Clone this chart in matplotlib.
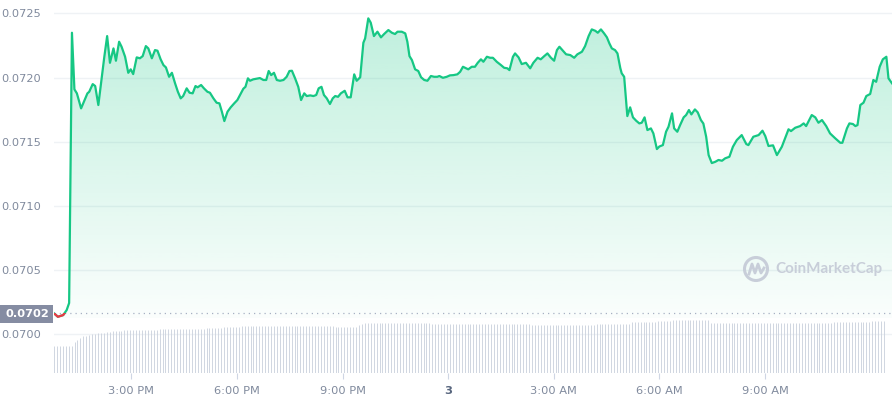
import matplotlib
matplotlib.use("Agg")
import matplotlib.pyplot as plt
import numpy as np
from matplotlib.patches import Circle, Rectangle
from matplotlib.lines import Line2D
from matplotlib.transforms import IdentityTransform

# price: hours since 00:00 of day 2 (24 = midnight of the 3rd), price in USD
hours = [12.80, 12.91, 13.06, 13.16, 13.23, 13.31, 13.38, 13.45, 13.57, 13.66, 13.75, 13.80,
         13.90, 13.97, 14.06, 14.16, 14.23, 14.31, 14.39, 14.49, 14.56, 14.65, 14.72, 14.82,
         14.91, 14.98, 15.05, 15.15, 15.24, 15.32, 15.41, 15.48, 15.58, 15.67, 15.74, 15.83,
         15.91, 15.98, 16.07, 16.15, 16.24, 16.32, 16.40, 16.47, 16.57, 16.65, 16.74, 16.82,
         16.88, 16.98, 17.06, 17.16, 17.23, 17.33, 17.42, 17.50, 17.57, 17.64, 17.73, 17.82,
         17.92, 18.01, 18.11, 18.18, 18.24, 18.31, 18.37, 18.46, 18.56, 18.65, 18.75, 18.83,
         18.90, 18.97, 19.05, 19.13, 19.22, 19.32, 19.41, 19.49, 19.56, 19.65, 19.74, 19.82,
         19.91, 19.98, 20.08, 20.17, 20.25, 20.32, 20.40, 20.47, 20.55, 20.64, 20.72, 20.79,
         20.87, 20.95, 21.06, 21.14, 21.23, 21.33, 21.40, 21.50, 21.59, 21.64, 21.73, 21.80,
         21.89, 21.99, 22.09, 22.18, 22.30, 22.40, 22.49, 22.56, 22.68, 22.78, 22.84, 22.90,
         22.97, 23.06, 23.15, 23.23, 23.32, 23.41, 23.51, 23.60, 23.69, 23.75, 23.85, 23.96,
         24.05, 24.15, 24.26, 24.34, 24.42, 24.51, 24.57, 24.67, 24.76, 24.84, 24.93, 25.00,
         25.10, 25.19, 25.27, 25.38, 25.50, 25.59, 25.68, 25.74, 25.84, 25.90, 26.00, 26.09,
         26.21, 26.33, 26.42, 26.54, 26.63, 26.73, 26.82, 26.92, 27.01, 27.09, 27.16, 27.26,
         27.35, 27.47, 27.58, 27.67, 27.80, 27.89, 27.99, 28.08, 28.18, 28.25, 28.34, 28.43,
         28.51, 28.58, 28.65, 28.74, 28.81, 28.89, 28.93, 29.00, 29.09, 29.17, 29.25, 29.34,
         29.43, 29.50, 29.58, 29.66, 29.76, 29.83, 29.93, 30.00, 30.10, 30.19, 30.26, 30.36,
         30.42, 30.51, 30.59, 30.69, 30.76, 30.84, 30.91, 31.01, 31.09, 31.18, 31.25, 31.33,
         31.40, 31.49, 31.59, 31.68, 31.78, 31.87, 31.99, 32.09, 32.20, 32.34, 32.47, 32.53,
         32.67, 32.82, 32.93, 33.01, 33.10, 33.23, 33.34, 33.48, 33.67, 33.74, 33.86, 34.00,
         34.10, 34.17, 34.33, 34.43, 34.52, 34.62, 34.74, 34.85, 35.00, 35.14, 35.20, 35.33,
         35.40, 35.50, 35.57, 35.63, 35.71, 35.80, 35.88, 35.99, 36.08, 36.16, 36.26, 36.35,
         36.45, 36.51, 36.61]

price = [0.070164, 0.070137, 0.070150, 0.070189, 0.070244, 0.072349, 0.071908, 0.071877,
         0.071760, 0.071819, 0.071877, 0.071889, 0.071949, 0.071934, 0.071786, 0.072006,
         0.072162, 0.072323, 0.072115, 0.072227, 0.072131, 0.072279, 0.072240, 0.072162,
         0.072037, 0.072064, 0.072027, 0.072157, 0.072150, 0.072167, 0.072245, 0.072227,
         0.072150, 0.072214, 0.072209, 0.072142, 0.072097, 0.072079, 0.072006, 0.072037,
         0.071955, 0.071889, 0.071838, 0.071856, 0.071916, 0.071882, 0.071877, 0.071934,
         0.071924, 0.071942, 0.071916, 0.071889, 0.071882, 0.071838, 0.071804, 0.071799,
         0.071734, 0.071661, 0.071734, 0.071768, 0.071799, 0.071825, 0.071877, 0.071913,
         0.071928, 0.071994, 0.071975, 0.071986, 0.071991, 0.071996, 0.071981, 0.071981,
         0.072051, 0.072019, 0.072037, 0.071981, 0.071975, 0.071981, 0.072006, 0.072051,
         0.072053, 0.071994, 0.071928, 0.071825, 0.071877, 0.071856, 0.071861, 0.071856,
         0.071864, 0.071916, 0.071928, 0.071864, 0.071838, 0.071794, 0.071838, 0.071856,
         0.071850, 0.071877, 0.071897, 0.071846, 0.071846, 0.072025, 0.071975, 0.072002,
         0.072271, 0.072305, 0.072461, 0.072427, 0.072323, 0.072357, 0.072313, 0.072339,
         0.072370, 0.072349, 0.072339, 0.072357, 0.072357, 0.072344, 0.072279, 0.072167,
         0.072136, 0.072064, 0.072051, 0.072002, 0.071981, 0.071975, 0.072012, 0.072006,
         0.072006, 0.072012, 0.071998, 0.072006, 0.072017, 0.072019, 0.072025, 0.072045,
         0.072084, 0.072072, 0.072064, 0.072084, 0.072084, 0.072115, 0.072142, 0.072123,
         0.072162, 0.072154, 0.072154, 0.072123, 0.072097, 0.072076, 0.072072, 0.072058,
         0.072162, 0.072188, 0.072157, 0.072105, 0.072115, 0.072072, 0.072115, 0.072154,
         0.072142, 0.072167, 0.072188, 0.072154, 0.072131, 0.072214, 0.072240, 0.072209,
         0.072181, 0.072175, 0.072154, 0.072181, 0.072201, 0.072245, 0.072323, 0.072375,
         0.072364, 0.072349, 0.072375, 0.072344, 0.072313, 0.072266, 0.072227, 0.072214,
         0.072188, 0.072074, 0.072033, 0.072006, 0.071700, 0.071768, 0.071690, 0.071664,
         0.071643, 0.071648, 0.071690, 0.071591, 0.071604, 0.071565, 0.071443, 0.071463,
         0.071474, 0.071578, 0.071617, 0.071721, 0.071604, 0.071578, 0.071630, 0.071690,
         0.071708, 0.071747, 0.071713, 0.071752, 0.071729, 0.071669, 0.071642, 0.071539,
         0.071396, 0.071334, 0.071344, 0.071358, 0.071352, 0.071371, 0.071383, 0.071461,
         0.071513, 0.071552, 0.071482, 0.071474, 0.071539, 0.071552, 0.071586, 0.071544,
         0.071467, 0.071472, 0.071396, 0.071461, 0.071597, 0.071583, 0.071609, 0.071622,
         0.071643, 0.071622, 0.071708, 0.071690, 0.071648, 0.071669, 0.071622, 0.071565,
         0.071526, 0.071492, 0.071492, 0.071604, 0.071643, 0.071638, 0.071622, 0.071630,
         0.071786, 0.071804, 0.071856, 0.071872, 0.071981, 0.071967, 0.072084, 0.072142,
         0.072162, 0.071994, 0.071955]

open_price = 0.070164

# 24h volume (millions), one bar every 5 minutes from 12:48
volume = [27, 27, 27, 27, 27, 27, 27, 31, 33, 35, 37, 37, 38, 39, 39, 40, 40, 40, 41, 41, 42, 42, 42, 42,
          43, 43, 43, 43, 43, 43, 43, 43, 43, 43, 43, 43, 44, 44, 44, 44, 44, 44, 44, 44, 44, 44, 44, 44,
          44, 44, 44, 44, 45, 45, 45, 45, 45, 45, 46, 46, 46, 46, 46, 46, 47, 47, 47, 47, 47, 47, 47, 47,
          47, 47, 47, 47, 47, 47, 47, 47, 47, 47, 47, 47, 47, 47, 47, 47, 47, 47, 47, 47, 47, 47, 47, 47,
          46, 46, 46, 46, 46, 46, 46, 46, 48, 49, 50, 50, 50, 50, 50, 50, 50, 50, 50, 50, 50, 50, 50, 50,
          50, 50, 50, 50, 50, 50, 50, 50, 50, 49, 49, 49, 49, 49, 49, 49, 49, 49, 49, 49, 49, 49, 49, 49,
          49, 49, 49, 49, 49, 49, 49, 49, 49, 49, 49, 49, 49, 49, 49, 49, 49, 49, 49, 48, 48, 48, 48, 48,
          48, 48, 48, 48, 48, 48, 48, 48, 48, 48, 48, 48, 48, 48, 48, 48, 48, 49, 49, 49, 49, 49, 49, 49,
          49, 49, 49, 49, 49, 51, 51, 51, 51, 51, 51, 51, 51, 51, 52, 52, 52, 52, 52, 53, 53, 53, 53, 53,
          53, 53, 53, 53, 53, 53, 53, 53, 50, 50, 50, 50, 50, 50, 50, 50, 50, 50, 50, 50, 50, 50, 50, 50,
          50, 50, 50, 50, 50, 50, 50, 50, 50, 50, 50, 50, 50, 50, 50, 50, 50, 50, 50, 50, 50, 50, 50, 50,
          50, 50, 51, 51, 51, 51, 51, 51, 51, 51, 51, 51, 51, 51, 51, 52, 52, 52, 52, 52]
vol_start = 12.80
vol_step = 5 / 60

x_ticks = [15, 18, 21, 24, 27, 30, 33]
x_labels = ["3:00 PM", "6:00 PM", "9:00 PM", "3", "3:00 AM", "6:00 AM", "9:00 AM"]
y_ticks = [0.0700, 0.0705, 0.0710, 0.0715, 0.0720, 0.0725]

GREEN = "#16c784"
RED = "#ea3943"
GRID = "#eff2f5"
TEXT = "#808a9d"

fig = plt.figure(figsize=(8.94, 4.0), dpi=100)
ax = fig.add_axes([54 / 894, 27 / 400, 838 / 894, 373 / 400])
x0, x1 = 12.80, 36.61
y0, y1 = 0.069699, 0.072604
ax.set_xlim(x0, x1)
ax.set_ylim(y0, y1)
for s in ax.spines.values():
    s.set_visible(False)

# grid
ax.set_yticks(y_ticks)
ax.set_yticklabels([f"{v:.4f}" for v in y_ticks])
ax.yaxis.grid(True, color=GRID, lw=1)
ax.set_axisbelow(True)
ax.tick_params(axis="y", length=0, pad=9, labelsize=8.2, labelcolor=TEXT)
ax.set_xticks(x_ticks)
ax.set_xticklabels(x_labels)
ax.tick_params(axis="x", length=4, width=0.8, color="#cfd6e4", pad=5, labelsize=8.2, labelcolor=TEXT)
for lab in ax.get_xticklabels():
    if lab.get_text() == "3":
        lab.set_fontweight("bold")
        lab.set_color("#58667e")

# volume bars
vol = fig.add_axes(ax.get_position(), sharex=ax)
vol.patch.set_visible(False)
vol.set_ylim(0, 373)
vol.axis("off")
vol_x = vol_start + vol_step * np.arange(len(volume))
vol.vlines(vol_x, 0, volume, color="#c9d0dc", lw=0.6)
vol.set_xlim(x0, x1)

# gradient fill under the price
poly = ax.fill_between(hours, price, y0, facecolor="none", edgecolor="none")
grad = np.zeros((256, 1, 4))
rgb = matplotlib.colors.to_rgb(GREEN)
grad[:, 0, 0:3] = rgb
grad[:, 0, 3] = np.linspace(0.02, 0.29, 256)
img = ax.imshow(grad, extent=[x0, x1, open_price - 0.00004, y1], origin="lower",
                aspect="auto", zorder=1.5)
img.set_clip_path(poly.get_paths()[0], transform=ax.transData)
ax.set_xlim(x0, x1)
ax.set_ylim(y0, y1)

# price line, red below the open
ax.plot(hours, price, color=GREEN, lw=1.6, zorder=3, solid_joinstyle="round")
red_line, = ax.plot(hours, price, color=RED, lw=1.6, zorder=3.1)
red_line.set_clip_path(Rectangle((x0, y0), x1 - x0, open_price - y0, transform=ax.transData))
ax.axhline(open_price, color="#a6b0c3", lw=0.9, ls=(0, (1, 3.2)), zorder=2)

# open price label box
fig.add_artist(Rectangle((0, 400 - 323), 53, 18, transform=IdentityTransform(),
                         facecolor="#858ca2", edgecolor="none"))
fig.text(27 / 894, 1 - 314 / 400, f"{open_price:.4f}", color="white", fontsize=8.2,
         fontweight="bold", ha="center", va="center")

# watermark
wm = "#c8ced9"
fig.add_artist(Circle((756, 400 - 269), 11.5, transform=IdentityTransform(),
                      facecolor="none", edgecolor=wm, lw=2.2))
fig.add_artist(Line2D([749, 752, 755, 758, 761, 764], [400 - 274, 400 - 264, 400 - 273, 400 - 264, 400 - 273, 400 - 268],
                      transform=IdentityTransform(), color=wm, lw=2.0))
fig.text(775 / 894, 1 - 269 / 400, "CoinMarketCap", color=wm, fontsize=10.9,
         fontweight="bold", family=["Lato", "DejaVu Sans"], ha="left", va="center")

fig.savefig("out.png", dpi=100)
